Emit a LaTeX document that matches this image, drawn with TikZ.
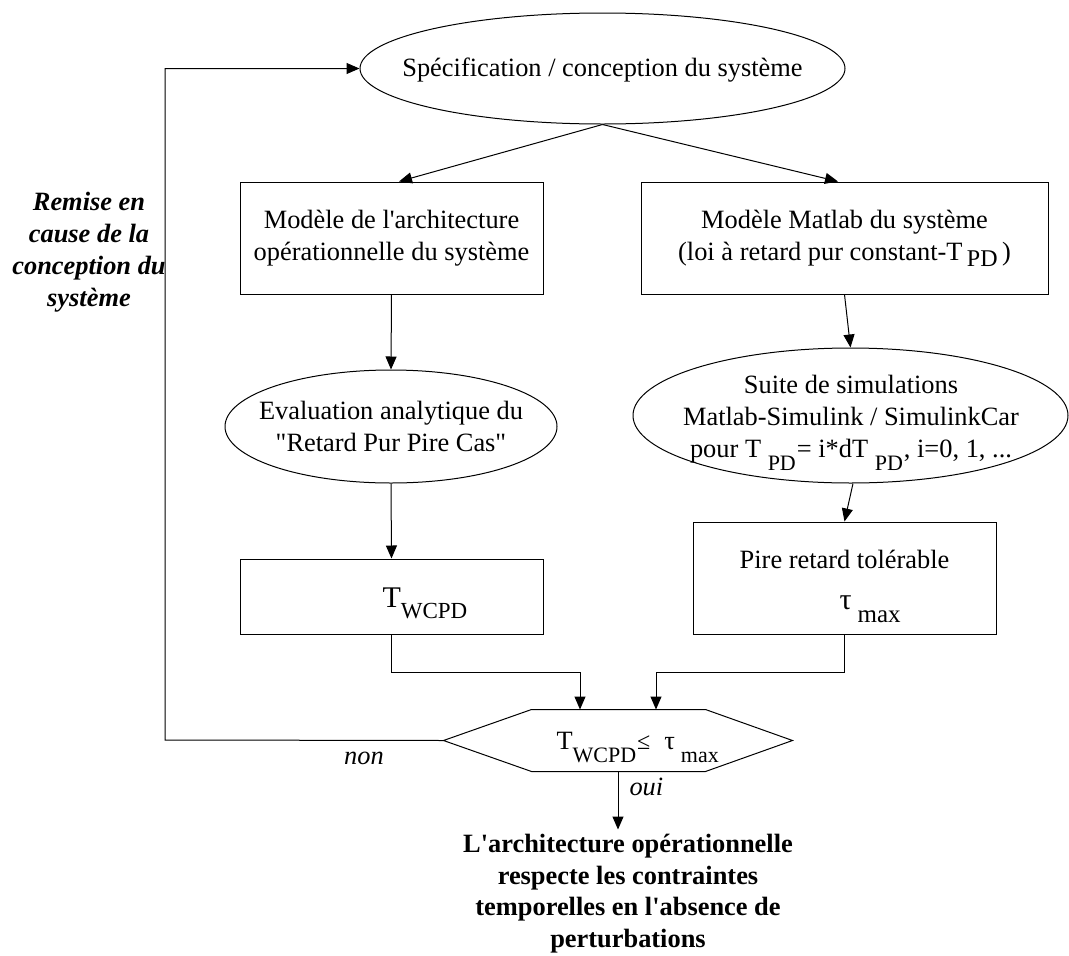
\documentclass[tikz,border=0pt]{standalone}
\usepackage{fontspec}
\setmainfont{Liberation Serif}[Ligatures=TeXOff]
\usetikzlibrary{arrows.meta,shapes.geometric}
\newcommand\lowr[3]{\raisebox{-#1pt}{\fontsize{#2}{#2}\selectfont #3}}
\begin{document}
\begin{tikzpicture}[x=1pt,y=-1pt,
  font=\fontsize{26.4}{32}\selectfont,
  line width=1pt,
  arr/.style={-{Triangle[length=13pt,width=11pt]}},
  box/.style={draw, rectangle, inner sep=0pt},
  ell/.style={draw, ellipse, inner sep=0pt},
  txt/.style={inner sep=0pt, align=center}]
\useasboundingbox (0,0) rectangle (1069,956);

% top ellipse
\node[ell, minimum width=485pt, minimum height=111pt] (spec) at (602.5,68.5) {};
\node[inner sep=0pt, anchor=base] (spect) at (602.5,76) {Spécification / conception du système};

% boxes row 1
\node[box, minimum width=303pt, minimum height=112pt, align=center] (arch) at (391.5,238)
  {Modèle de l'architecture\\opérationnelle du système};
\node[box, minimum width=407pt, minimum height=112pt, align=center] (matlab) at (844.5,238)
  {Modèle Matlab du système\\(loi à retard pur constant-T\,\lowr{6}{24}{PD}\,)};

% ellipses row 2
\node[ell, minimum width=332pt, minimum height=113pt] (eval) at (391,426.5) {};
\node[txt] (evalt) at (391,426) {Evaluation analytique du\\"Retard Pur Pire Cas"};
\node[ell, minimum width=435pt, minimum height=135pt] (simu) at (850.5,415.5) {};
\node[txt, anchor=north] (simut) at (851,374.5)
  {Suite de simulations\\Matlab-Simulink / SimulinkCar\\pour T \lowr{13}{22}{PD}\kern1pt= i*dT \lowr{13}{22}{PD}\kern1pt, i=0, 1, ...};

% boxes row 3
\node[box, minimum width=303pt, minimum height=75pt] (twcpd) at (391.5,596.5) {};
\node[inner sep=0pt, anchor=base west] (twcpdt) at (382,607)
  {{\fontsize{30}{30}\selectfont T}\lowr{11}{23}{WCPD}};
\node[box, minimum width=303pt, minimum height=112pt] (pire) at (844.5,578) {};
\node[inner sep=0pt, anchor=base] (piret) at (844.5,568) {Pire retard tolérable};
\node[inner sep=0pt, anchor=base west] (tau) at (839,609)
  {{\fontsize{30}{30}\selectfont τ}\kern6pt\lowr{13}{25}{max}};

% decision hexagon
\node[minimum width=348pt, minimum height=61pt, inner sep=0pt] (dec) at (618,740.5) {};
\draw (dec.west) -- ([xshift=88pt]dec.north west) -- ([xshift=-87pt]dec.north east)
  -- (dec.east) -- ([xshift=-87pt]dec.south east) -- ([xshift=88pt]dec.south west) -- cycle;
\node[inner sep=0pt, anchor=base west] (dect) at (556,749)
  {T\lowr{13}{22}{WCPD}\kern1pt{\fontsize{24}{24}\selectfont ≤}\kern14pt τ\kern6pt\lowr{13}{22}{max}};

% left label
\node[txt, anchor=north, font=\fontsize{26.4}{32}\selectfont\bfseries\itshape] (remise) at (89,192)
  {Remise en\\cause de la\\conception du\\système};

% result
\node[align=center, inner xsep=0pt, inner ysep=4pt, anchor=north, font=\fontsize{26.4}{31.7}\selectfont\bfseries] (res) at (628,829.5)
  {L'architecture opérationnelle\\respecte les contraintes\\temporelles en l'absence de\\perturbations};

% labels
\node[inner sep=0pt, anchor=base, font=\fontsize{26.4}{32}\selectfont\itshape] (non) at (364,764) {non};
\node[inner sep=0pt, anchor=base west, font=\fontsize{26.4}{32}\selectfont\itshape] (oui) at (629,795) {oui};

% connectors
\coordinate (loop) at (165,740);
\draw[arr] (spec.south) -- ([xshift=7.5pt]arch.north);
\draw[arr] (spec.south) -- ([xshift=-6.5pt]matlab.north);
\draw[arr] (arch.south) -- (eval.north);
\draw[arr] (eval.south) -- (twcpd.north);
\draw[arr] (matlab.south) -- (simu.north);
\draw[arr] ([xshift=2.5pt]simu.south) -- (pire.north);
\draw[arr] (twcpd.south) -- ++(0,38) -| ([xshift=-38pt]dec.north);
\draw[arr] (pire.south) -- ++(0,38) -| ([xshift=38pt]dec.north);
\draw[arr] (dec.west) -- (loop) |- (spec.west);
\draw[arr] (dec.south) -- (dec.south |- res.north);
\end{tikzpicture}
\end{document}
